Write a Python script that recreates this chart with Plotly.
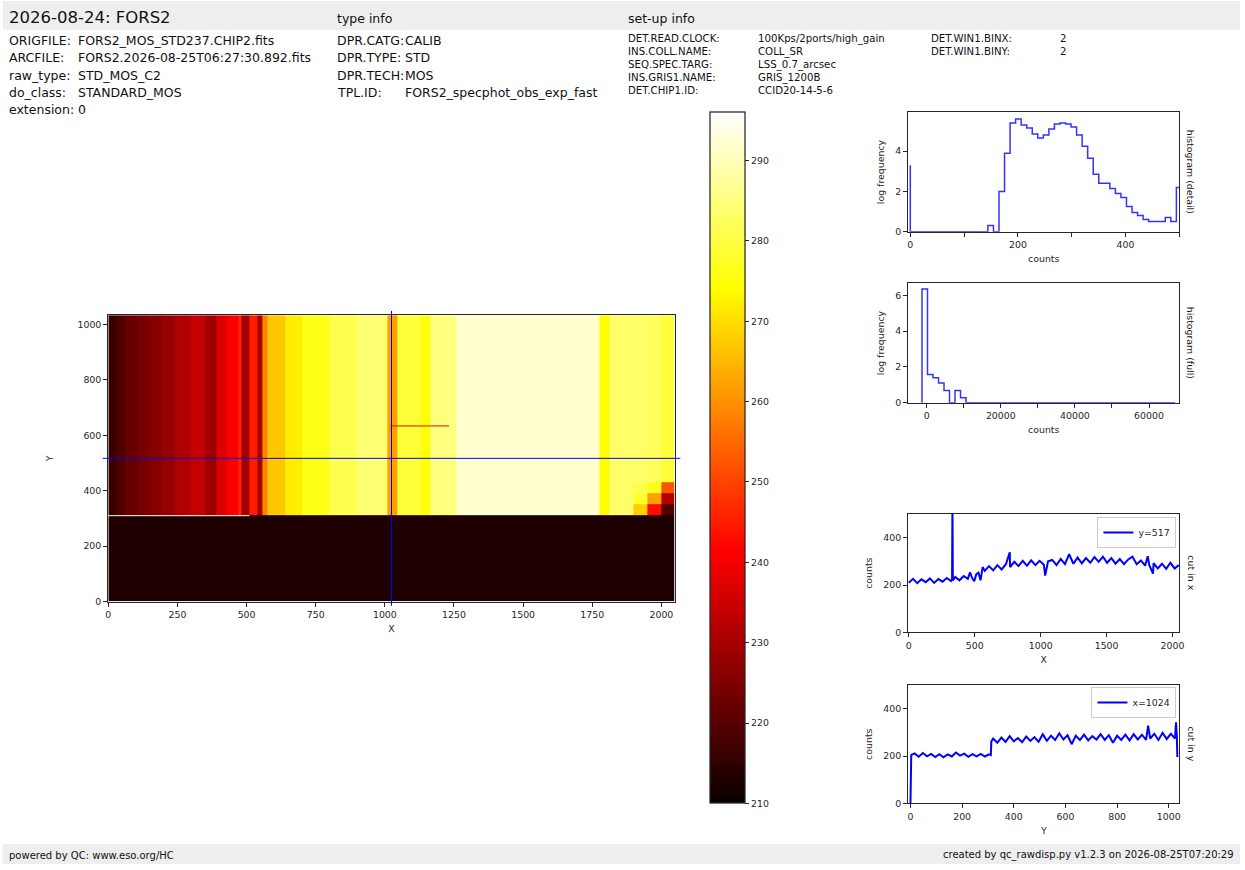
import plotly.graph_objects as go

W, H = 1245, 870
FONT = "DejaVu Sans"
INK = "#262626"

# ---------------- header / footer text
TITLE = "2026-08-24: FORS2"
FILE_KEYS = ["ORIGFILE:", "ARCFILE:", "raw_type:", "do_class:", "extension:"]
FILE_VALS = ["FORS2_MOS_STD237.CHIP2.fits", "FORS2.2026-08-25T06:27:30.892.fits",
             "STD_MOS_C2", "STANDARD_MOS", "0"]
TYPE_KEYS = ["DPR.CATG:", "DPR.TYPE:", "DPR.TECH:", "TPL.ID:"]
TYPE_VALS = ["CALIB", "STD", "MOS", "FORS2_specphot_obs_exp_fast"]
SETUP_KEYS = ["DET.READ.CLOCK:", "INS.COLL.NAME:", "SEQ.SPEC.TARG:", "INS.GRIS1.NAME:", "DET.CHIP1.ID:"]
SETUP_VALS = ["100Kps/2ports/high_gain", "COLL_SR", "LSS_0.7_arcsec", "GRIS_1200B", "CCID20-14-5-6"]
SETUP2_KEYS = ["DET.WIN1.BINX:", "DET.WIN1.BINY:"]
SETUP2_VALS = ["2", "2"]
FOOT_LEFT = "powered by QC: www.eso.org/HC"
FOOT_RIGHT = "created by qc_rawdisp.py v1.2.3 on 2026-08-25T07:20:29"

# ---------------- raw image (coarse read of the frame)
COL_EDGES = [0, 30, 60, 105, 150, 195, 240, 295, 350, 390, 430, 470, 481, 511, 540, 558, 576,
             640, 700, 800, 900, 1008, 1044, 1128, 1164, 1260, 1775, 1811, 1900, 1950, 2000, 2048]
ROW_EDGES = [0, 309, 313, 350, 390, 430, 1034]
UPPER_LEVEL = [216, 219, 222, 224, 226, 228, 231, 234, 229, 237, 241, 246, 230, 245, 230, 258,
               267, 272, 276, 281, 284, 262, 279, 275, 285, 292, 274, 283, 283, 282, 279]
BOTTOM_LEVEL = 212.5
SEAM_LEVEL = 296          # bright row at y~311 for x < 511
SEAM_END_X = 511
# vignetted lower-right corner: rows 313-350, 350-390, 390-430 for last 3 columns
CORNER_LEVELS = [[268, 243, 219],
                 [278, 262, 232],
                 [281, 276, 252]]
Z_MIN, Z_MAX = 210, 296
CBAR_TICKS = [210, 220, 230, 240, 250, 260, 270, 280, 290]
CUT_COL = 1024
CUT_ROW = 517
STREAK = dict(x0=1020, x1=1232, y=634)

# ---------------- histograms (log10 frequency, step plots)
DETAIL_BIN = 10.3
DETAIL_LOGF = [3.3, 0, 0, 0, 0, 0, 0, 0, 0, 0, 0, 0, 0, 0, 0, 0.3, 0, 2.0, 3.9, 5.4,
               5.6, 5.3, 5.15, 4.85, 4.65, 4.8, 5.1, 5.35, 5.4, 5.35, 5.2, 4.8, 4.25, 3.65, 2.85,
               2.4, 2.4, 2.15, 1.9, 1.7, 1.25, 0.95, 0.8, 0.6, 0.5, 0.5, 0.5, 0.7, 0.5, 2.2]
FULL_START = -1260
FULL_BIN = 1485
FULL_LOGF = [0, 6.35, 1.57, 1.39, 1.1, 0.68, 0, 0.68, 0.28] + [0] * 38

# ---------------- cuts
CUTX_POS = [0, 32, 64, 96, 128, 160, 192, 224, 256, 288, 320, 328, 331, 334, 352, 384, 416,
            448, 464, 480, 496, 512, 528, 544, 560, 576, 608, 640, 672, 704, 736, 766, 768,
            800, 832, 864, 896, 928, 960, 992, 1024, 1034, 1056, 1088, 1120, 1152, 1184, 1216,
            1248, 1280, 1312, 1344, 1376, 1408, 1440, 1472, 1504, 1536, 1568, 1600, 1632, 1664,
            1696, 1728, 1760, 1792, 1812, 1824, 1852, 1856, 1888, 1920, 1952, 1984, 2016, 2047]
CUTX_VAL = [210, 226, 208, 224, 212, 228, 209, 225, 214, 230, 217, 224, 560, 219, 234, 220, 238,
            226, 254, 230, 216, 246, 252, 220, 276, 260, 280, 262, 284, 266, 288, 338, 276,
            298, 280, 302, 282, 304, 284, 302, 286, 240, 300, 306, 284, 310, 288, 330,
            290, 316, 292, 314, 294, 318, 298, 320, 294, 314, 290, 310, 288, 308,
            320, 288, 304, 282, 322, 284, 248, 292, 270, 290, 268, 294, 270, 284]
CUTY_POS = [0, 3, 16, 32, 48, 64, 80, 96, 112, 128, 144, 160, 176, 192, 208, 224, 240, 256,
            272, 288, 304, 311, 313, 320, 336, 352, 368, 384, 400, 416, 432, 448, 464, 480,
            496, 512, 528, 544, 560, 576, 592, 608, 624, 640, 656, 672, 688, 704, 720, 736,
            752, 768, 784, 800, 816, 832, 848, 864, 880, 896, 912, 920, 928, 944, 960, 976,
            992, 1008, 1024, 1028, 1031, 1033]
CUTY_VAL = [0, 205, 211, 197, 213, 199, 209, 196, 208, 195, 207, 198, 215, 202, 210, 197, 208, 199,
            209, 198, 207, 204, 262, 274, 256, 278, 260, 284, 262, 276, 258, 282, 264, 280,
            260, 292, 264, 286, 268, 296, 270, 288, 250, 286, 268, 290, 266, 284, 270, 292,
            268, 288, 256, 286, 268, 290, 266, 292, 270, 290, 268, 328, 274, 294, 268, 298,
            272, 294, 274, 342, 290, 196]

# matplotlib 'hot'
HOT = [[0.0, "rgb(10,0,0)"], [0.365079, "rgb(255,0,0)"],
       [0.746032, "rgb(255,255,0)"], [1.0, "rgb(255,255,255)"]]


def px_x(p):
    return p / W


def px_y(p):
    return 1 - p / H


def dom_x(a, b):
    return [a / W, b / W]


def dom_y(top, bottom):
    return [1 - bottom / H, 1 - top / H]


# build image grid
ncol = len(UPPER_LEVEL)
z = []
for r in range(len(ROW_EDGES) - 1):
    row = []
    for c in range(ncol):
        if r == 0:
            v = BOTTOM_LEVEL
        elif r == 1:
            v = SEAM_LEVEL if COL_EDGES[c + 1] <= SEAM_END_X else BOTTOM_LEVEL
        elif 2 <= r <= 4 and c >= ncol - 3:
            v = CORNER_LEVELS[r - 2][c - (ncol - 3)]
        else:
            v = UPPER_LEVEL[c]
        row.append(v)
    z.append(row)

fig = go.Figure()

fig.add_trace(go.Heatmap(
    x=COL_EDGES, y=ROW_EDGES, z=z, zmin=Z_MIN, zmax=Z_MAX, colorscale=HOT,
    hoverinfo="skip", xaxis="x", yaxis="y",
    colorbar=dict(x=px_x(712), xanchor="left", xpad=0, ypad=0,
                  y=px_y(460.5), yanchor="middle", len=695 / H, lenmode="fraction",
                  thickness=35, thicknessmode="pixels",
                  outlinewidth=1.25, outlinecolor=INK,
                  ticks="outside", ticklen=4, tickcolor=INK, tickvals=CBAR_TICKS,
                  tickfont=dict(size=9.4, color=INK, family=FONT)),
))

fig.add_trace(go.Scatter(
    x=[i * DETAIL_BIN for i in range(len(DETAIL_LOGF))], y=DETAIL_LOGF,
    mode="lines", line=dict(color="rgba(0,0,255,0.8)", width=1.5, shape="vh"),
    xaxis="x2", yaxis="y2", showlegend=False, hoverinfo="skip"))

fig.add_trace(go.Scatter(
    x=[FULL_START + i * FULL_BIN for i in range(len(FULL_LOGF))], y=FULL_LOGF,
    mode="lines", line=dict(color="rgba(0,0,255,0.8)", width=1.5, shape="vh"),
    xaxis="x3", yaxis="y3", showlegend=False, hoverinfo="skip"))

fig.add_trace(go.Scatter(
    x=CUTX_POS, y=CUTX_VAL, mode="lines", name="y=%d" % CUT_ROW,
    line=dict(color="#0000ff", width=2), xaxis="x4", yaxis="y4",
    legend="legend", hoverinfo="skip"))

fig.add_trace(go.Scatter(
    x=CUTY_POS, y=CUTY_VAL, mode="lines", name="x=%d" % CUT_COL,
    line=dict(color="#0000ff", width=2), xaxis="x5", yaxis="y5",
    legend="legend2", hoverinfo="skip"))

ax = dict(showline=True, linecolor=INK, linewidth=1.25, mirror=True, ticks="outside",
          ticklen=4, tickwidth=1, tickcolor=INK, showgrid=False, zeroline=False,
          tickfont=dict(size=9.4, color=INK, family=FONT))
tfont = dict(size=9.4, color=INK, family=FONT)

fig.update_layout(
    xaxis=dict(ax, domain=dom_x(106, 676), range=[0, 2048], anchor="y",
               tickvals=list(range(0, 2001, 250)),
               title=dict(text="X", font=tfont, standoff=6)),
    yaxis=dict(ax, domain=dom_y(317, 605), range=[0, 1034], anchor="x",
               tickvals=list(range(0, 1001, 200)),
               title=dict(text="Y", font=tfont, standoff=22)),
    xaxis2=dict(ax, domain=dom_x(911, 1184), range=[-4, 500], anchor="y2",
                tickvals=[0, 100, 200, 300, 400, 500], ticktext=["0", "", "200", "", "400", ""],
                title=dict(text="counts", font=tfont, standoff=6)),
    yaxis2=dict(ax, domain=dom_y(113, 233), range=[0, 5.93], anchor="x2",
                tickvals=[0, 2, 4], title=dict(text="log frequency", font=tfont, standoff=8)),
    xaxis3=dict(ax, domain=dom_x(911, 1184), range=[-5000, 68200], anchor="y3",
                tickvals=list(range(0, 60001, 10000)),
                ticktext=["0", "", "20000", "", "40000", "", "60000"],
                title=dict(text="counts", font=tfont, standoff=6)),
    yaxis3=dict(ax, domain=dom_y(285, 405), range=[0, 6.67], anchor="x3",
                tickvals=[0, 2, 4, 6], title=dict(text="log frequency", font=tfont, standoff=8)),
    xaxis4=dict(ax, domain=dom_x(911, 1184), range=[-5, 2052], anchor="y4",
                tickvals=list(range(0, 2001, 500)),
                title=dict(text="X", font=tfont, standoff=6)),
    yaxis4=dict(ax, domain=dom_y(517, 636), range=[0, 500], anchor="x4",
                tickvals=[0, 200, 400], title=dict(text="counts", font=tfont, standoff=8)),
    xaxis5=dict(ax, domain=dom_x(911, 1184), range=[-9, 1041], anchor="y5",
                tickvals=list(range(0, 1001, 200)),
                title=dict(text="Y", font=tfont, standoff=6)),
    yaxis5=dict(ax, domain=dom_y(689, 808), range=[0, 500], anchor="x5",
                tickvals=[0, 200, 400], title=dict(text="counts", font=tfont, standoff=8)),
    legend=dict(x=px_x(1181), xanchor="right", y=px_y(520), yanchor="top",
                bordercolor="#cccccc", borderwidth=1, bgcolor="white",
                font=dict(size=9.4, color=INK, family=FONT), itemwidth=30,
                tracegroupgap=0),
    legend2=dict(x=px_x(1181), xanchor="right", y=px_y(691), yanchor="top",
                 bordercolor="#cccccc", borderwidth=1, bgcolor="white",
                 font=dict(size=9.4, color=INK, family=FONT), itemwidth=30,
                 tracegroupgap=0),
    width=W, height=H, margin=dict(l=0, r=0, t=0, b=0),
    paper_bgcolor="white", plot_bgcolor="white",
    font=dict(family=FONT, color=INK),
)

shapes = [
    dict(type="rect", xref="paper", yref="paper", x0=0, x1=1, y0=px_y(30), y1=px_y(1),
         fillcolor="#eeeeee", line=dict(width=0), layer="below"),
    dict(type="rect", xref="paper", yref="paper", x0=0, x1=1, y0=px_y(869), y1=px_y(849),
         fillcolor="#eeeeee", line=dict(width=0), layer="below"),
    # crosshair of the cuts
    dict(type="line", xref="x", yref="y domain", x0=CUT_COL, x1=CUT_COL, y0=-0.015, y1=1.015,
         line=dict(color="#0000ff", width=1)),
    dict(type="line", xref="x domain", yref="y", x0=-0.01, x1=1.01, y0=CUT_ROW, y1=CUT_ROW,
         line=dict(color="#0000ff", width=1)),
    # short red streak in the frame
    dict(type="line", xref="x", yref="y", x0=STREAK["x0"], x1=STREAK["x1"],
         y0=STREAK["y"], y1=STREAK["y"], line=dict(color="#d01010", width=1)),
]
fig.update_layout(shapes=shapes)


def note(text, x, y, size, anchor="left", angle=0):
    fig.add_annotation(text=text, x=px_x(x), y=px_y(y), xref="paper", yref="paper",
                       xanchor=anchor, yanchor="middle", showarrow=False, textangle=angle,
                       borderpad=0, borderwidth=0,
                       font=dict(size=size, color="#111111", family=FONT))


note(TITLE, 6, 18, 16.5)
note("type info", 336, 19, 12.5)
note("set-up info", 629, 19, 12.5)
for i, (k, v) in enumerate(zip(FILE_KEYS, FILE_VALS)):
    yy = [41, 58, 76, 93, 110][i]
    note(k, 6, yy, 12.5)
    note(v, 75, yy, 12.5)
for i, (k, v) in enumerate(zip(TYPE_KEYS, TYPE_VALS)):
    yy = [41, 58, 76, 93][i]
    note(k, 336, yy, 12.5)
    note(v, 405, yy, 12.5)
for i, (k, v) in enumerate(zip(SETUP_KEYS, SETUP_VALS)):
    yy = 39 + i * 13
    note(k, 629, yy, 10.2)
    note(v, 760, yy, 10.2)
for i, (k, v) in enumerate(zip(SETUP2_KEYS, SETUP2_VALS)):
    yy = 39 + i * 13
    note(k, 934, yy, 10.2)
    note(v, 1064, yy, 10.2)
note(FOOT_LEFT, 6, 860, 10)
note(FOOT_RIGHT, 1239, 860, 10, anchor="right")

note("histogram (detail)", 1196, 173, 9.4, anchor="center", angle=90)
note("histogram (full)", 1196, 345, 9.4, anchor="center", angle=90)
note("cut in x", 1196, 576, 9.4, anchor="center", angle=90)
note("cut in y", 1196, 748, 9.4, anchor="center", angle=90)

# pin the figure to the window corner so the page has no margin or scroll overflow
PIN = ("document.body.style.margin='0';"
       "document.documentElement.style.overflow='hidden';"
       "document.body.style.overflow='hidden';"
       "var g=document.querySelector('.plotly-graph-div');"
       "g.style.position='fixed';g.style.left='0px';g.style.top='0px';")
fig.write_html("out.html", config={"displayModeBar": False}, post_script=PIN)
